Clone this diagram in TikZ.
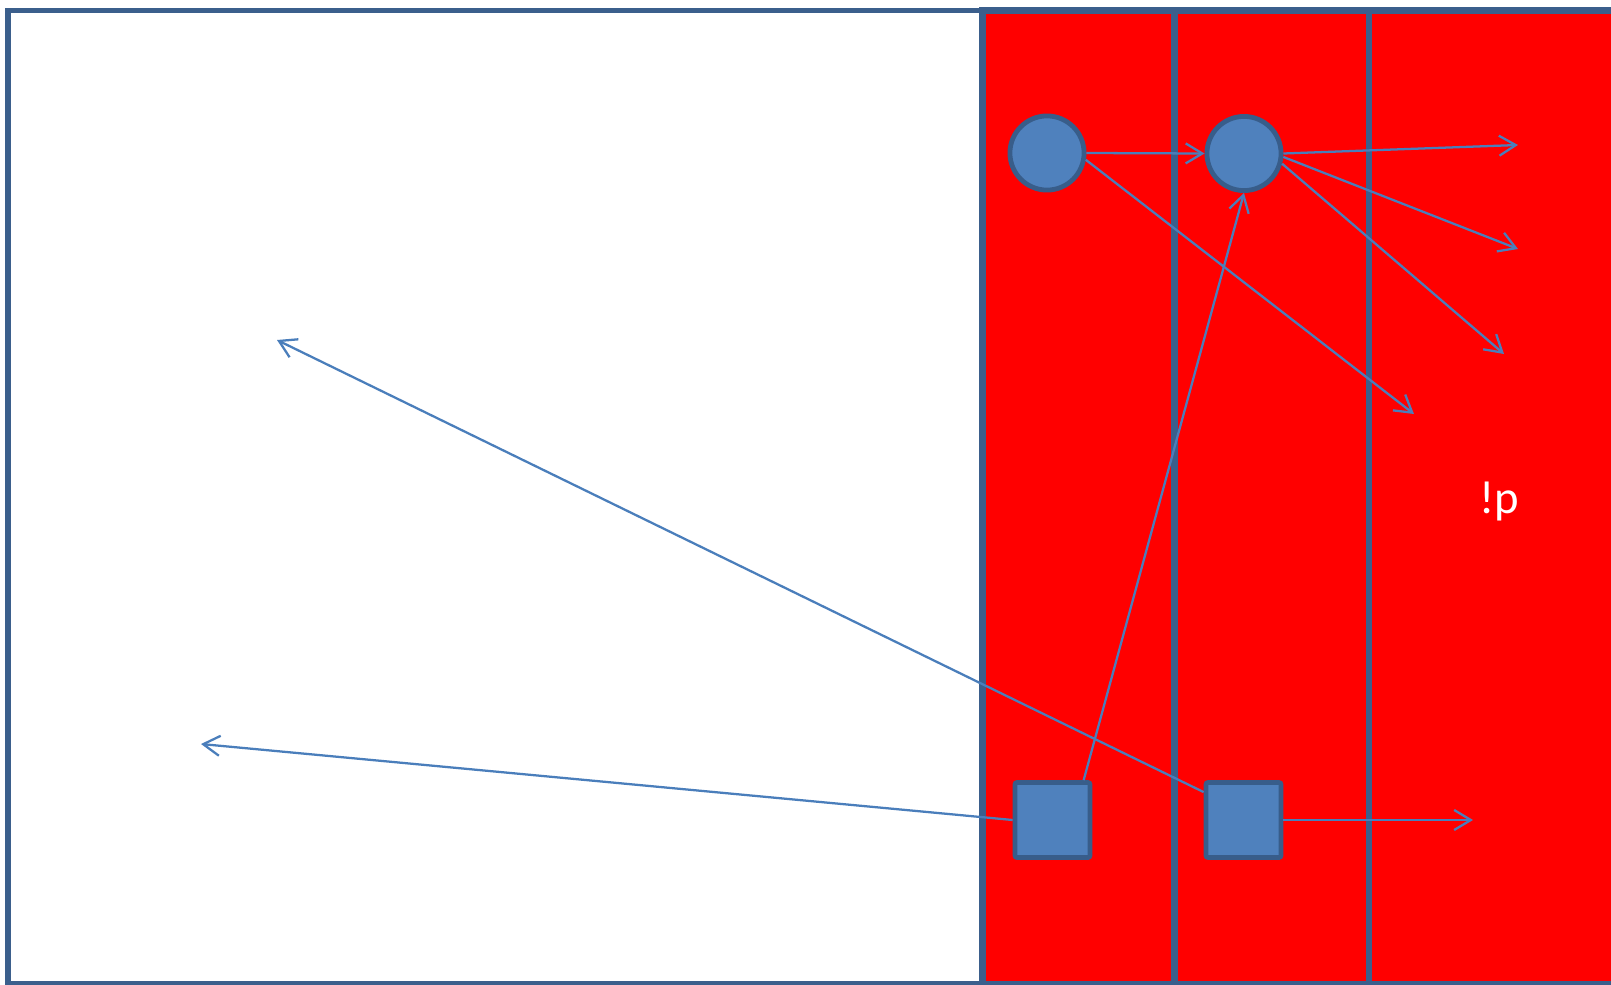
\documentclass[tikz,border=0pt]{standalone}
\usepackage{fontspec}
\setmainfont{Carlito}
\usetikzlibrary{arrows.meta}
\definecolor{frame}{HTML}{3B5F8C}
\definecolor{fillblue}{HTML}{4F81BD}
\definecolor{edgeblue}{HTML}{385D8A}
\definecolor{arrowblue}{HTML}{4A7EBB}
\begin{document}
\begin{tikzpicture}[x=0.75pt,y=-0.75pt,
  panel/.style={draw=frame,line width=3.8pt},
  column/.style={draw=frame,line width=4.6pt,fill=red},
  dot/.style={circle,draw=edgeblue,fill=fillblue,line width=3.6pt,minimum size=55.6pt,inner sep=0pt},
  block/.style={rectangle,rounded corners=1.5pt,draw=edgeblue,fill=fillblue,line width=3.6pt,minimum size=56.2pt,inner sep=0pt},
  link/.style={draw=arrowblue,line width=1.7pt,-{Straight Barb[length=12.5pt,width=15pt]}},
  label/.style={text=white,font=\fontsize{35}{40}\selectfont,inner sep=0pt,anchor=base}]
\useasboundingbox (0,0) rectangle (1611,985);
\clip (0,0) rectangle (1611,985);
\fill[white] (0,0) rectangle (1611,985);
\draw[panel] (8,10.5) rectangle (1700,984);
\draw[column] (982.5,10.5) rectangle (1174.5,984);
\draw[column] (1174.5,10.5) rectangle (1369,984);
\draw[column] (1369,10.5) rectangle (1700,984);

\node[dot] (c1) at (1047,153) {};
\node[dot] (c2) at (1244,153.5) {};
\node[block] (s1) at (1052.5,820) {};
\node[block] (s2) at (1243.5,820) {};
\node[label] (lbl) at (1499,513) {!p};

\coordinate (t2) at (1414,414);
\coordinate (t3) at (1518,145);
\coordinate (t4) at (1518,249);
\coordinate (t5) at (1504,354);
\coordinate (t7) at (277,340);
\coordinate (t8) at (201,744);
\coordinate (t9) at (1473,820);

\draw[link] (c1.east) -- (c2.west);
\draw[link] (c1.-10) -- (t2);
\draw[link] (c2.east) -- (t3);
\draw[link] (c2.-5) -- (t4);
\draw[link] (c2.-15) -- (t5);
\draw[link] (s1.52) -- (c2.south);
\draw[link] (s2.145) -- (t7);
\draw[link] (s1.west) -- (t8);
\draw[link] (s2.east) -- (t9);
\end{tikzpicture}
\end{document}
